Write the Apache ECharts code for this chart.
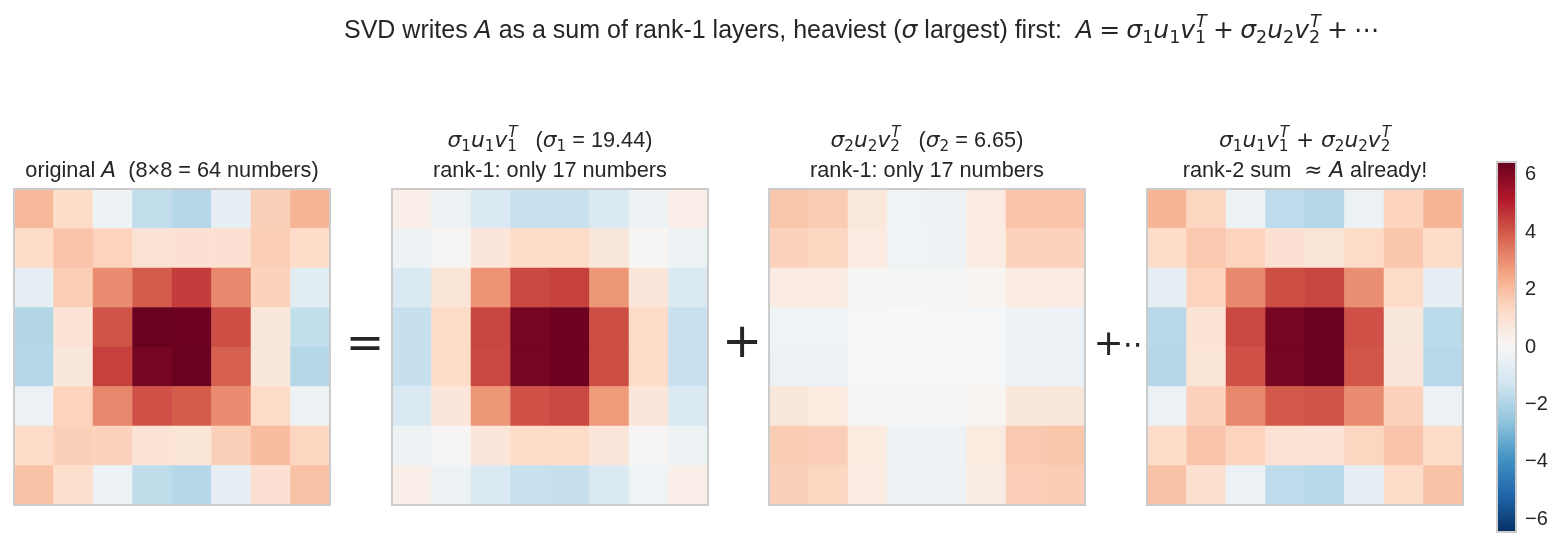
<!DOCTYPE html>
<html>
<head>
<meta charset="utf-8">
<script src="https://cdn.jsdelivr.net/npm/echarts@6/dist/echarts.min.js"></script>
<style>
  html, body { margin: 0; padding: 0; background: #fff; }
  #main { width: 1561px; height: 547px; }
</style>
</head>
<body>
<div id="main"></div>
<script>
// row / column indices of the 8x8 matrices
var idx = ['0', '1', '2', '3', '4', '5', '6', '7'];

// original A
var matA = [
  [2.1, 1.2, -0.35, -1.6, -1.85, -0.55, 1.55, 2.2],
  [1.2, 1.85, 1.45, 0.95, 1.0, 1.0, 1.6, 1.2],
  [-0.65, 1.6, 3.05, 3.95, 4.5, 3.15, 1.5, -0.75],
  [-1.9, 0.9, 4.1, 6.4, 6.35, 4.2, 0.75, -1.55],
  [-1.85, 0.75, 4.45, 6.2, 6.4, 3.85, 0.75, -1.85],
  [-0.4, 1.45, 3.15, 4.15, 3.95, 3.05, 1.3, -0.35],
  [1.2, 1.55, 1.5, 0.9, 0.85, 1.55, 2.0, 1.4],
  [1.9, 1.15, -0.35, -1.65, -1.85, -0.55, 1.0, 1.9]
];
// sigma1 u1 v1^T
var layer1 = [
  [0.4, -0.35, -1.0, -1.45, -1.45, -1.0, -0.35, 0.4],
  [-0.35, 0.1, 0.8, 1.25, 1.25, 0.75, 0.1, -0.35],
  [-1.0, 0.85, 2.9, 4.3, 4.45, 2.85, 0.8, -1.0],
  [-1.5, 1.25, 4.35, 6.2, 6.35, 4.2, 1.25, -1.45],
  [-1.5, 1.25, 4.3, 6.2, 6.35, 4.2, 1.25, -1.45],
  [-1.0, 0.8, 2.85, 4.15, 4.3, 2.75, 0.8, -1.0],
  [-0.35, 0.1, 0.8, 1.25, 1.25, 0.8, 0.1, -0.35],
  [0.4, -0.35, -1.0, -1.45, -1.5, -1.0, -0.3, 0.4]
];
// sigma2 u2 v2^T
var layer2 = [
  [1.8, 1.65, 0.7, -0.3, -0.4, 0.6, 1.85, 1.85],
  [1.5, 1.4, 0.6, -0.3, -0.35, 0.55, 1.5, 1.5],
  [0.55, 0.55, 0.1, -0.1, -0.1, 0.15, 0.55, 0.55],
  [-0.3, -0.3, -0.08, 0.0, 0.03, -0.08, -0.35, -0.38],
  [-0.4, -0.4, -0.08, 0.05, 0.05, -0.08, -0.4, -0.42],
  [0.75, 0.62, 0.1, -0.1, -0.1, 0.15, 0.75, 0.72],
  [1.65, 1.58, 0.62, -0.35, -0.38, 0.62, 1.75, 1.8],
  [1.55, 1.42, 0.55, -0.35, -0.38, 0.52, 1.58, 1.62]
];
// rank-2 sum
var rank2 = [
  [2.2, 1.4, -0.35, -1.7, -1.85, -0.4, 1.45, 2.2],
  [1.2, 1.75, 1.45, 1.0, 0.85, 1.3, 1.77, 1.2],
  [-0.65, 1.45, 3.15, 4.2, 4.35, 3.0, 1.3, -0.55],
  [-1.8, 0.9, 4.3, 6.2, 6.4, 4.15, 0.75, -1.75],
  [-1.85, 0.85, 4.15, 6.2, 6.4, 4.05, 0.78, -1.8],
  [-0.4, 1.5, 3.15, 4.0, 4.1, 3.05, 1.5, -0.42],
  [1.2, 1.85, 1.45, 0.95, 0.9, 1.4, 1.85, 1.2],
  [1.9, 1.05, -0.4, -1.7, -1.8, -0.55, 1.2, 1.9]
];

var cbTicks = [-6, -4, -2, 0, 2, 4, 6];
var vMin = -6.45, vMax = 6.45;
var rdbuR = ['#053061', '#2166ac', '#4393c3', '#92c5de', '#d1e5f0', '#f7f7f7',
             '#fddbc7', '#f4a582', '#d6604d', '#b2182b', '#67001f'];

var INK = '#262626';
var panels = [matA, layer1, layer2, rank2];
var panelLeft = [14, 392, 769, 1147];
var panelTop = 189, panelSize = 316;

// ---- text layout helper (plain + math-ish pieces) ----
var ctx = document.createElement('canvas').getContext('2d');
function tw(t, f) { ctx.font = f; return ctx.measureText(t).width; }
function fontOf(k, fs) {
  if (k === 'r') return fs + 'px "Liberation Sans"';
  if (k === 'i') return 'italic ' + fs + 'px "DejaVu Sans"';
  return fs + 'px "DejaVu Sans"';
}
// tokens: [text, kind]  r=roman, i=math italic, m=math upright, b=subscript, s="sub|sup" stacked
function mathLine(tokens, x0, y, fs, align) {
  var pieces = [], x = 0;
  var sfs = (fs * 0.7).toFixed(1);
  tokens.forEach(function (tk) {
    var t = tk[0], k = tk[1];
    if (k === 'b' || k === 's') {
      var parts = t.split('|');
      var sf = sfs + 'px "DejaVu Sans"';
      var w = tw(parts[0], sf);
      pieces.push({ t: parts[0], f: sf, x: x, dy: fs * 0.28 });
      if (parts[1]) {
        var pf = 'italic ' + sfs + 'px "DejaVu Sans"';
        pieces.push({ t: parts[1], f: pf, x: x + 1, dy: -fs * 0.36 });
        w = Math.max(w, tw(parts[1], pf) + 1);
      }
      x += w;
    } else {
      var f = fontOf(k, fs);
      pieces.push({ t: t, f: f, x: x, dy: 0 });
      x += tw(t, f);
    }
  });
  var start = align === 'center' ? x0 - x / 2 : x0;
  return pieces.map(function (p) {
    return {
      type: 'text', z: 100, x: start + p.x, y: y + p.dy, silent: true,
      style: { text: p.t, font: p.f, fill: INK, align: 'left', verticalAlign: 'middle' }
    };
  });
}

var graphics = [];
var FS = 21.7, FS_TITLE = 25;
var SP = '\u2005'; // narrower space round math operators
// suptitle
graphics = graphics.concat(mathLine([
  ['SVD writes ', 'r'], ['A', 'i'], [' as a sum of rank-1 layers, heaviest (', 'r'], ['σ', 'i'],
  [' largest) first:  ', 'r'], ['A', 'i'], [SP + '=' + SP, 'm'], ['σ', 'i'], ['1', 'b'], ['u', 'i'], ['1', 'b'],
  ['v', 'i'], ['1|T', 's'], [SP + '+' + SP, 'm'], ['σ', 'i'], ['2', 'b'], ['u', 'i'], ['2', 'b'], ['v', 'i'],
  ['2|T', 's'], [SP + '+' + SP + '⋯', 'm']
], 344, 31, FS_TITLE, 'left'));

var cx = panelLeft.map(function (l) { return l + panelSize / 2; });
graphics = graphics.concat(mathLine([['original ', 'r'], ['A', 'i'], ['  (8×8 = 64 numbers)', 'r']], cx[0], 171, FS, 'center'));
graphics = graphics.concat(mathLine([['σ', 'i'], ['1', 'b'], ['u', 'i'], ['1', 'b'], ['v', 'i'], ['1|T', 's'],
  ['   (', 'r'], ['σ', 'i'], ['1', 'b'], [' = 19.44)', 'r']], cx[1], 141, FS, 'center'));
graphics = graphics.concat(mathLine([['rank-1: only 17 numbers', 'r']], cx[1], 171, FS, 'center'));
graphics = graphics.concat(mathLine([['σ', 'i'], ['2', 'b'], ['u', 'i'], ['2', 'b'], ['v', 'i'], ['2|T', 's'],
  ['   (', 'r'], ['σ', 'i'], ['2', 'b'], [' = 6.65)', 'r']], cx[2], 141, FS, 'center'));
graphics = graphics.concat(mathLine([['rank-1: only 17 numbers', 'r']], cx[2], 171, FS, 'center'));
graphics = graphics.concat(mathLine([['σ', 'i'], ['1', 'b'], ['u', 'i'], ['1', 'b'], ['v', 'i'], ['1|T', 's'],
  [' + ', 'm'], ['σ', 'i'], ['2', 'b'], ['u', 'i'], ['2', 'b'], ['v', 'i'], ['2|T', 's']], cx[3], 141, FS, 'center'));
graphics = graphics.concat(mathLine([['rank-2 sum ', 'r'], [' ≈ ', 'm'], ['A', 'i'], [' already!', 'r']], cx[3], 171, FS, 'center'));

// operators between panels
graphics.push({ type: 'text', z: 100, x: 365, y: 346, style: { text: '=', font: '46px "DejaVu Sans"', fill: INK, align: 'center', verticalAlign: 'middle' } });
graphics.push({ type: 'text', z: 100, x: 742, y: 345, style: { text: '+', font: '48px "DejaVu Sans"', fill: INK, align: 'center', verticalAlign: 'middle' } });
graphics.push({ type: 'text', z: 100, x: 1108.5, y: 346, style: { text: '+', font: '36px "DejaVu Sans"', fill: INK, align: 'center', verticalAlign: 'middle' } });
// the dots run under the last panel, which hides the third one
graphics.push({ type: 'text', z: 1, x: 1123, y: 346, style: { text: '⋯', font: '30px "DejaVu Sans"', fill: INK, align: 'left', verticalAlign: 'middle' } });

// frames
panelLeft.forEach(function (l) {
  graphics.push({ type: 'rect', z: 100, silent: true, shape: { x: l, y: panelTop, width: panelSize, height: panelSize },
    style: { fill: null, stroke: '#cccccc', lineWidth: 2 } });
});
graphics.push({ type: 'rect', z: 100, silent: true, shape: { x: 1497, y: 162, width: 19, height: 370 },
  style: { fill: null, stroke: '#cccccc', lineWidth: 2 } });

// ---- grids / axes / series ----
var grids = [], xAxes = [], yAxes = [], series = [];
panels.forEach(function (m, p) {
  grids.push({ left: panelLeft[p], top: panelTop, width: panelSize, height: panelSize });
  xAxes.push({ type: 'category', data: idx, gridIndex: p, show: false });
  yAxes.push({ type: 'category', data: idx, gridIndex: p, show: false, inverse: true });
  var d = [];
  m.forEach(function (row, r) { row.forEach(function (v, c) { d.push([c, r, v]); }); });
  series.push({ type: 'heatmap', xAxisIndex: p, yAxisIndex: p, data: d, itemStyle: { borderWidth: 0 }, emphasis: { disabled: true } });
});
// colorbar axis
grids.push({ left: 1497, top: 162, width: 19, height: 370 });
xAxes.push({ type: 'value', gridIndex: 4, show: false, min: 0, max: 1 });
yAxes.push({
  type: 'value', gridIndex: 4, position: 'right', min: vMin, max: vMax,
  axisLine: { show: false }, axisTick: { show: false }, splitLine: { show: false },
  axisLabel: {
    customValues: cbTicks, margin: 9, color: INK, fontSize: 20, fontFamily: 'Liberation Sans',
    formatter: function (v) { return String(v).replace('-', '\u2212'); }
  }
});

var chart = echarts.init(document.getElementById('main'), null, { renderer: 'canvas' });
chart.setOption({
  animation: false,
  backgroundColor: '#ffffff',
  grid: grids,
  xAxis: xAxes,
  yAxis: yAxes,
  visualMap: {
    type: 'continuous', min: vMin, max: vMax, calculable: false, show: true,
    left: 1497, top: 162, itemWidth: 19, itemHeight: 370, padding: 0, text: null,
    inRange: { color: rdbuR }, seriesIndex: [0, 1, 2, 3], hoverLink: false
  },
  series: series,
  graphic: graphics
});
</script>
</body>
</html>
